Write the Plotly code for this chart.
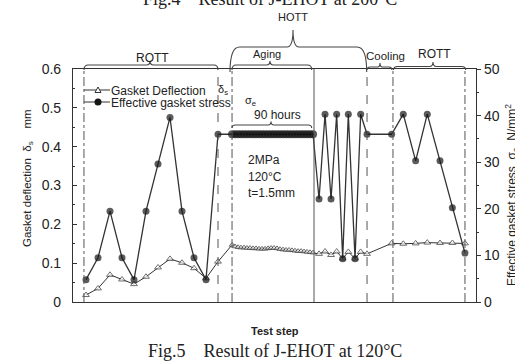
import plotly.graph_objects as go

# ---------------- data ----------------
# x = test step position (one ROTT step = 1 unit)
rott1_x = [0, 1, 2, 3, 4, 5, 6, 7, 8, 9, 10, 11.0]
rott1_defl = [0.018, 0.035, 0.070, 0.058, 0.046, 0.065, 0.089, 0.111, 0.101, 0.087, 0.061, 0.104]
rott1_stress = [4.8, 9.5, 19.5, 9.5, 4.8, 19.5, 29.6, 39.6, 19.5, 9.5, 4.8, 36.0]

aging_x = [12.17, 12.42, 12.67, 12.92, 13.17, 13.42, 13.67, 13.92, 14.17, 14.42,
           14.67, 14.92, 15.17, 15.42, 15.67, 15.92, 16.17, 16.42, 16.67, 16.92,
           17.17, 17.42, 17.67, 17.92, 18.17, 18.42, 18.67, 18.92]
aging_defl = [0.147, 0.143, 0.141, 0.140, 0.140, 0.139, 0.139, 0.138, 0.138, 0.137,
              0.137, 0.137, 0.138, 0.139, 0.139, 0.138, 0.136, 0.135, 0.134, 0.134,
              0.133, 0.132, 0.131, 0.131, 0.130, 0.129, 0.128, 0.127]
aging_stress = [36.0, 36.0, 36.0, 36.0, 36.0, 36.0, 36.0, 36.0, 36.0, 36.0,
                36.0, 36.0, 36.0, 36.0, 36.0, 36.0, 36.0, 36.0, 36.0, 36.0,
                36.0, 36.0, 36.0, 36.0, 36.0, 36.0, 36.0, 36.0]

rott2_x = [19.42, 19.92, 20.42, 20.89, 21.39, 21.86, 22.42, 22.89, 23.42,
           25.47, 26.44, 27.47, 28.44, 29.5, 30.53, 31.58]
rott2_defl = [0.124, 0.130, 0.121, 0.130, 0.112, 0.129, 0.112, 0.129, 0.124,
              0.151, 0.150, 0.151, 0.153, 0.152, 0.152, 0.151]
rott2_stress = [22.1, 40.3, 22.1, 40.3, 9.3, 40.3, 9.3, 40.3, 36.0,
                36.0, 40.3, 30.3, 40.3, 30.3, 20.2, 10.5]

phase_lines = [-0.17, 11.0, 12.17, 19.0, 23.42, 25.58, 31.58]
phase_dash = ["dashdot", "dash", "dashdot", "solid", "dash", "dashdot", "dashdot"]

left_ticks = [0, 0.1, 0.2, 0.3, 0.4, 0.5, 0.6]
left_tick_text = ["0", "0.1", "0.2", "0.3", "0.4", "0.5", "0.6"]
right_ticks = [0, 10, 20, 30, 40, 50]

# ---------------- layout helpers ----------------
W, H = 515, 362
L, R, T, B = 73, 476, 69, 302
X0, X1 = -1.083, 32.5


def py(p):
    return (B - p) / (B - T)


def pxx(p):
    return (p - L) / (R - L)


def sx(p):
    return X0 + (p - L) / (R - L) * (X1 - X0)


x_all = rott1_x + aging_x + rott2_x
defl_all = rott1_defl + aging_defl + rott2_defl
stress_all = rott1_stress + aging_stress + rott2_stress
stress_size = [7] * len(rott1_x) + [8] * len(aging_x) + [7] * len(rott2_x)
defl_size = [6] * len(rott1_x) + [5] * len(aging_x) + [6] * len(rott2_x)

LINE = "#333333"
TXT = "#222222"
FONT = "Liberation Sans, Arial, sans-serif"
SERIF = "Liberation Serif, Times New Roman, serif"

fig = go.Figure()
fig.add_trace(go.Scatter(
    x=x_all, y=defl_all, mode="lines+markers", name="Gasket Deflection",
    line=dict(color=LINE, width=1),
    marker=dict(symbol="triangle-up", size=defl_size, color="white",
                line=dict(color=LINE, width=1)),
    yaxis="y", showlegend=False))
fig.add_trace(go.Scatter(
    x=x_all, y=stress_all, mode="lines+markers", name="Effective gasket stress",
    line=dict(color=LINE, width=1.3),
    marker=dict(symbol="circle", size=stress_size, color="#151515",
                line=dict(color="#151515", width=0)),
    yaxis="y2", showlegend=False))

shapes = []
for xv, d in zip(phase_lines, phase_dash):
    shapes.append(dict(type="line", xref="x", yref="paper", x0=xv, x1=xv, y0=0, y1=1,
                       line=dict(color="#555555", width=1, dash=d)))


def brace(xa, xb, base, bar, tip_x, tip, r=0.35, rt=0.3):
    yb, yr, yt = py(base), py(bar), py(tip)
    path = (f"M {xa},{yb} Q {xa},{yr} {xa + r},{yr} L {tip_x - rt},{yr} "
            f"Q {tip_x},{yr} {tip_x},{yt} Q {tip_x},{yr} {tip_x + rt},{yr} "
            f"L {xb - r},{yr} Q {xb},{yr} {xb},{yb}")
    return dict(type="path", xref="x", yref="paper", path=path,
                line=dict(color="#444444", width=1.1))


shapes.append(brace(sx(84), sx(218), 70, 65, sx(150), 61))
shapes.append(brace(sx(232), sx(311.7), 70, 65, sx(270), 61))
shapes.append(brace(sx(230), sx(366.7), 72, 47, sx(293), 30, r=0.8, rt=0.5))
shapes.append(brace(sx(367), sx(392), 70, 67, sx(380), 63, r=0.25, rt=0.2))
shapes.append(brace(sx(393.5), sx(465.7), 70, 66.5, sx(433), 62))
# 90 hours brace (inside the aging box)
yb, yr, yt = py(128), py(125), py(121.5)
xa, xb, xt = sx(232), sx(311.7), sx(271)
shapes.append(dict(type="path", xref="x", yref="paper",
                   path=(f"M {xa},{yb} Q {xa},{yr} {xa + 0.3},{yr} L {xt - 0.25},{yr} "
                         f"Q {xt},{yr} {xt},{yt} Q {xt},{yr} {xt + 0.25},{yr} "
                         f"L {xb - 0.3},{yr} Q {xb},{yr} {xb},{yb}"),
                   line=dict(color="#444444", width=1.1)))

# manual legend
for yy in (90, 102):
    shapes.append(dict(type="line", xref="paper", yref="paper", x0=pxx(84), x1=pxx(110),
                       y0=py(yy), y1=py(yy), line=dict(color=LINE, width=1)))
shapes.append(dict(type="path", xref="paper", yref="paper", xsizemode="pixel",
                   ysizemode="pixel", xanchor=pxx(98), yanchor=py(90),
                   path="M -3,-2.5 L 3,-2.5 L 0,3 Z", fillcolor="white",
                   line=dict(color=LINE, width=1)))
shapes.append(dict(type="circle", xref="paper", yref="paper", xsizemode="pixel",
                   ysizemode="pixel", xanchor=pxx(98), yanchor=py(102),
                   x0=-3.5, x1=3.5, y0=-3.5, y1=3.5, fillcolor="#151515",
                   line=dict(color="#151515", width=0)))

ann = []


def text(t, x, y, size=12, xanchor="center", yanchor="middle", angle=0, family=FONT, ref="paper"):
    ann.append(dict(text=t, x=x, y=y, xref=ref, yref="paper", showarrow=False,
                    xanchor=xanchor, yanchor=yanchor, textangle=angle,
                    font=dict(size=size, color=TXT, family=family)))


text("Gasket Deflection", pxx(109), py(90.5), 12, xanchor="left")
text("δ<sub>s</sub>", pxx(216), py(89.5), 11, xanchor="left")
text("Effective gasket stress", pxx(109), py(102.5), 12, xanchor="left")
text("σ<sub>e</sub>", pxx(243), py(101), 11, xanchor="left")
text("90 hours", pxx(277), py(115), 12)
text("2MPa", pxx(246), py(160), 12, xanchor="left")
text("120°C", pxx(246), py(177), 12, xanchor="left")
text("t=1.5mm", pxx(246), py(193), 12, xanchor="left")

text("ROTT", pxx(152), py(58), 12)
text("Aging", pxx(267), py(54), 11)
text("HOTT", pxx(293), py(17), 11)
text("Cooling", pxx(385), py(56), 11.5)
text("ROTT", pxx(434), py(54), 12)

text("Gasket deflection\u00a0\u00a0δ<sub>s</sub>\u00a0\u00a0\u00a0\u00a0mm", pxx(28), py(178), 11.5, angle=-90)
text("Effective gasket stress\u00a0\u00a0σ<sub>e</sub>\u00a0\u00a0N/mm<sup>2</sup>", pxx(512), py(195), 12, angle=-90)

text("<b>Test step</b>", pxx(275), py(331), 11)
text("Fig.5\u00a0\u00a0\u00a0\u00a0Result of J-EHOT at 120°C", pxx(275), py(351), 18, family=SERIF)
text("Fig.4\u00a0\u00a0\u00a0\u00a0Result of J-EHOT at 200°C", pxx(270), py(11), 18,
     yanchor="bottom", family=SERIF)

fig.update_layout(
    width=W, height=H,
    margin=dict(l=L, r=W - R, t=T, b=H - B),
    paper_bgcolor="white", plot_bgcolor="white",
    showlegend=False,
    shapes=shapes, annotations=ann,
    xaxis=dict(range=[X0, X1], showgrid=False, zeroline=False, showticklabels=False,
               ticks="", showline=True, mirror=True, linecolor=LINE, linewidth=1.2),
    yaxis=dict(range=[0, 0.6], tickvals=left_ticks, ticktext=left_tick_text,
               showgrid=False, zeroline=False, showline=True, linecolor=LINE, linewidth=1.2,
               ticks="inside", ticklen=4, tickcolor=LINE, ticklabelstandoff=8,
               minor=dict(ticks="inside", ticklen=2, dtick=0.05, tickcolor=LINE),
               tickfont=dict(size=14, color=TXT, family=FONT)),
    yaxis2=dict(range=[0, 50], tickvals=right_ticks, overlaying="y", side="right",
                showgrid=False, zeroline=False, showline=True, linecolor=LINE, linewidth=1.2,
                ticks="outside", ticklen=4, tickcolor=LINE,
                minor=dict(ticks="outside", ticklen=2, dtick=5, tickcolor=LINE),
                tickfont=dict(size=14, color=TXT, family=FONT)),
)

fig.write_html("out.html", config={"displayModeBar": False},
               post_script="document.body.style.margin='0';document.body.style.padding='0';")
